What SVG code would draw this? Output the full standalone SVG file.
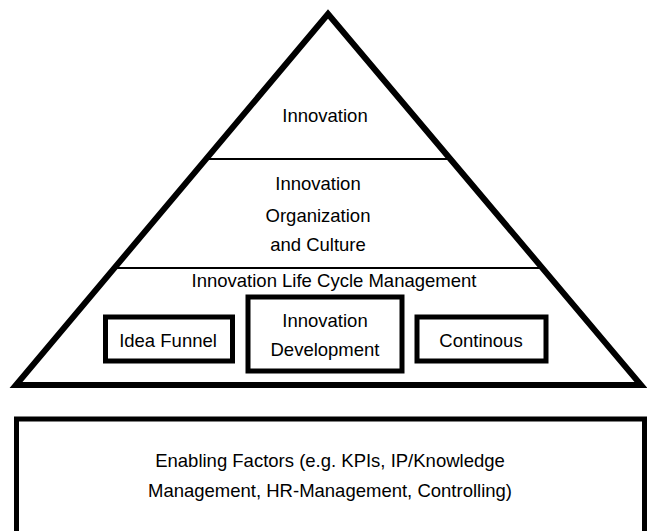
<svg xmlns="http://www.w3.org/2000/svg" width="647" height="531" viewBox="0 0 647 531">
<style>
.t{font-family:"Liberation Sans",Arial,sans-serif;font-size:18.5px;fill:#000;text-anchor:middle}
.box{fill:#fff;stroke:#000;stroke-width:5}
.sep{stroke:#000;stroke-width:2;fill:none}
</style>
<rect width="647" height="531" fill="#fff"/>
<g id="pyramid">
<polygon points="328,14 16,385 641,385" fill="#fff" stroke="#000" stroke-width="6" stroke-linejoin="miter"/>
</g>
<g id="connectors">
<line class="sep" x1="207" y1="159" x2="449" y2="159"/>
<line class="sep" x1="116" y1="268" x2="540" y2="268"/>
</g>
<g id="innovation"><text class="t" x="325" y="122">Innovation</text></g>
<g id="organization">
<text class="t" x="318" y="190">Innovation</text>
<text class="t" x="318" y="222">Organization</text>
<text class="t" x="318" y="251">and Culture</text>
</g>
<g id="lifecycle"><text class="t" x="334" y="287">Innovation Life Cycle Management</text></g>
<g id="idea-funnel">
<rect class="box" x="105.5" y="317" width="127" height="44"/>
<text class="t" x="168" y="347">Idea Funnel</text>
</g>
<g id="innovation-development">
<rect class="box" x="248" y="297" width="154" height="74"/>
<text class="t" x="325" y="327">Innovation</text>
<text class="t" x="325" y="356">Development</text>
</g>
<g id="continous">
<rect class="box" x="417" y="317" width="129" height="44"/>
<text class="t" x="481" y="347">Continous</text>
</g>
<g id="enabling-factors">
<rect class="box" x="16.5" y="419" width="628" height="115"/>
<text class="t" x="330" y="467">Enabling Factors (e.g. KPIs, IP/Knowledge</text>
<text class="t" x="330" y="497">Management, HR-Management, Controlling)</text>
</g>
</svg>
